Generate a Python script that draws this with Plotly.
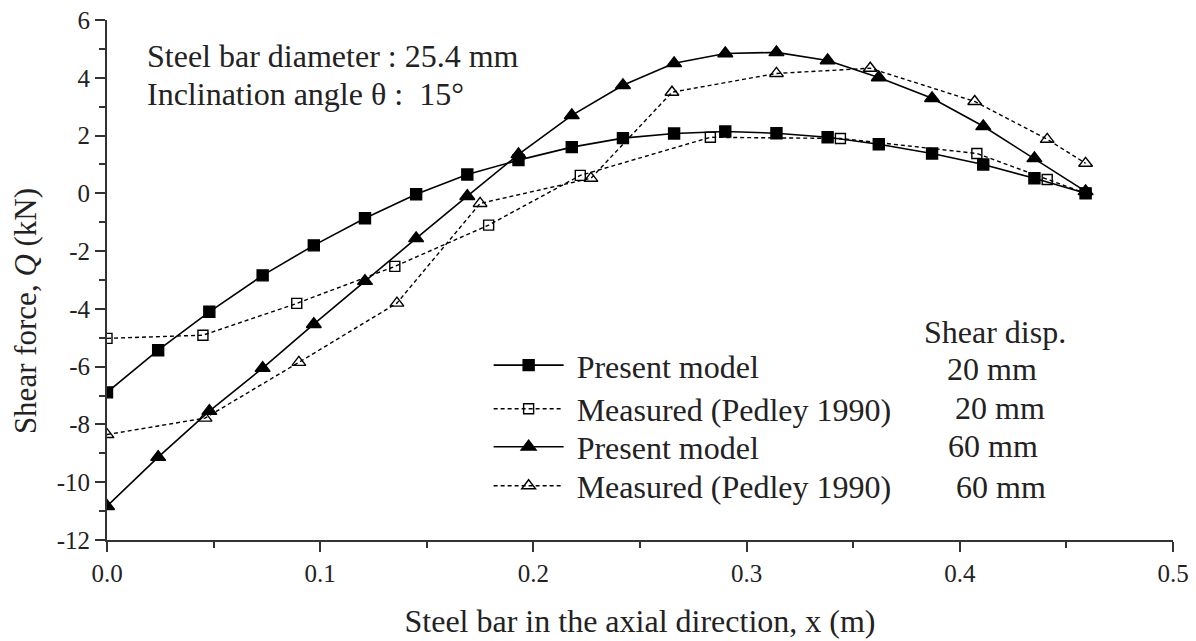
import plotly.graph_objects as go

# x positions (m)
x_model = [0.000, 0.024, 0.048, 0.073, 0.097, 0.121, 0.145, 0.169, 0.193, 0.218,
           0.242, 0.266, 0.290, 0.314, 0.338, 0.362, 0.387, 0.411, 0.435, 0.459]
q_model_20 = [-6.89, -5.43, -4.10, -2.84, -1.80, -0.86, -0.03, 0.65, 1.15, 1.60,
              1.91, 2.07, 2.14, 2.08, 1.94, 1.70, 1.38, 1.00, 0.52, 0.00]
q_model_60 = [-10.83, -9.13, -7.54, -6.05, -4.53, -3.04, -1.56, -0.10, 1.35, 2.70,
              3.74, 4.50, 4.84, 4.88, 4.60, 4.01, 3.29, 2.32, 1.21, 0.07]

x_meas_20 = [0.000, 0.045, 0.089, 0.135, 0.179, 0.222, 0.283, 0.344, 0.408, 0.441, 0.459]
q_meas_20 = [-5.02, -4.91, -3.81, -2.53, -1.10, 0.62, 1.94, 1.90, 1.38, 0.48, 0.00]

x_meas_60 = [0.000, 0.046, 0.090, 0.136, 0.175, 0.227, 0.265, 0.314, 0.358, 0.407, 0.441, 0.459]
q_meas_60 = [-8.35, -7.78, -5.85, -3.80, -0.35, 0.52, 3.50, 4.15, 4.33, 3.18, 1.87, 1.04]

y_tick_vals = [6, 4, 2, 0, -2, -4, -6, -8, -10, -12]
y_tick_text = ["6", "4", "2", "0", "-2", "-4", "-6", "-8", "-10", "-12"]
x_tick_vals = [0.0, 0.1, 0.2, 0.3, 0.4, 0.5]
x_tick_text = ["0.0", "0.1", "0.2", "0.3", "0.4", "0.5"]

legend_names = ["Present model", "Measured (Pedley 1990)", "Present model", "Measured (Pedley 1990)"]
disp_labels = ["20 mm", "20 mm", "60 mm", "60 mm"]

FONT = "Liberation Serif, Times New Roman, serif"
DASH = "4px,3px"
TXT = 32

series = [
    dict(x=x_model, y=q_model_20, dash="solid", w=1.6, sym="square", size=11),
    dict(x=x_meas_20, y=q_meas_20, dash=DASH, w=1.4, sym="square-open", size=10),
    dict(x=x_model, y=q_model_60, dash="solid", w=1.6, sym="triangle-up", size=13),
    dict(x=x_meas_60, y=q_meas_60, dash=DASH, w=1.4, sym="triangle-up-open", size=12),
]
legend_ids = ["legend", "legend2", "legend3", "legend4"]

fig = go.Figure()
for s, name, lid in zip(series, legend_names, legend_ids):
    fig.add_trace(go.Scatter(
        x=s["x"], y=s["y"], mode="lines+markers", name="\u00a0" + name, legend=lid,
        line=dict(color="black", width=s["w"], dash=s["dash"]),
        marker=dict(symbol=s["sym"], size=s["size"], color="black", line=dict(width=1.4, color="black"))))

axis_common = dict(
    showline=True, linecolor="#333", linewidth=2, mirror=False,
    ticks="outside", ticklen=10, tickwidth=2, tickcolor="#333",
    showgrid=False, zeroline=False, automargin=False,
    tickfont=dict(family=FONT, size=25, color="#222"),
)

fig.update_xaxes(range=[0, 0.5], tickvals=x_tick_vals, ticktext=x_tick_text,
                 minor=dict(dtick=0.05, ticks="outside", ticklen=6, tickwidth=2, tickcolor="#333"),
                 title=dict(text="Steel bar in the axial direction, x (m)",
                            font=dict(family=FONT, size=TXT, color="#222"), standoff=24),
                 **axis_common)
fig.update_yaxes(range=[-12, 6], tickvals=y_tick_vals, ticktext=y_tick_text,
                 minor=dict(dtick=1, ticks="outside", ticklen=6, tickwidth=2, tickcolor="#333"),
                 **axis_common)

# y-axis title as a rotated annotation (centred a bit below plot middle, as in the original)
fig.add_annotation(xref="paper", yref="paper", x=-0.077, y=0.44, text="Shear force, <i>Q</i> (kN)",
                   textangle=-90, showarrow=False, xanchor="center", yanchor="middle",
                   font=dict(family=FONT, size=31, color="#222"))

annots = [
    dict(x=0.036, y=0.931, text="Steel bar diameter : 25.4 mm"),
    dict(x=0.036, y=0.858, text="Inclination angle \u03b8 :  15\u00b0"),
]
for a in annots:
    fig.add_annotation(xref="paper", yref="paper", x=a["x"], y=a["y"], text=a["text"],
                       showarrow=False, xanchor="left", yanchor="middle",
                       font=dict(family=FONT, size=TXT, color="#222"))

fig.add_annotation(xref="paper", yref="paper", x=0.833, y=0.40, text="Shear disp.",
                   showarrow=False, xanchor="center", yanchor="middle",
                   font=dict(family=FONT, size=TXT, color="#222"))
disp_x = [0.830, 0.838, 0.831, 0.839]
disp_y = [0.329, 0.254, 0.181, 0.102]
for lx, ly, t in zip(disp_x, disp_y, disp_labels):
    fig.add_annotation(xref="paper", yref="paper", x=lx, y=ly, text=t,
                       showarrow=False, xanchor="center", yanchor="middle",
                       font=dict(family=FONT, size=TXT, color="#222"))

legend_y = [0.336, 0.252, 0.179, 0.104]
leg_common = dict(x=0.358, xanchor="left", yanchor="middle",
                  bgcolor="rgba(0,0,0,0)", borderwidth=0,
                  font=dict(family=FONT, size=TXT, color="#222"), itemwidth=70)

fig.update_layout(
    width=1196, height=641,
    margin=dict(l=107, r=23, t=20, b=101, autoexpand=False),
    plot_bgcolor="white", paper_bgcolor="white",
    showlegend=True,
    legend=dict(y=legend_y[0], **leg_common),
    legend2=dict(y=legend_y[1], **leg_common),
    legend3=dict(y=legend_y[2], **leg_common),
    legend4=dict(y=legend_y[3], **leg_common),
    font=dict(family=FONT),
)

fig.write_html("out.html")
